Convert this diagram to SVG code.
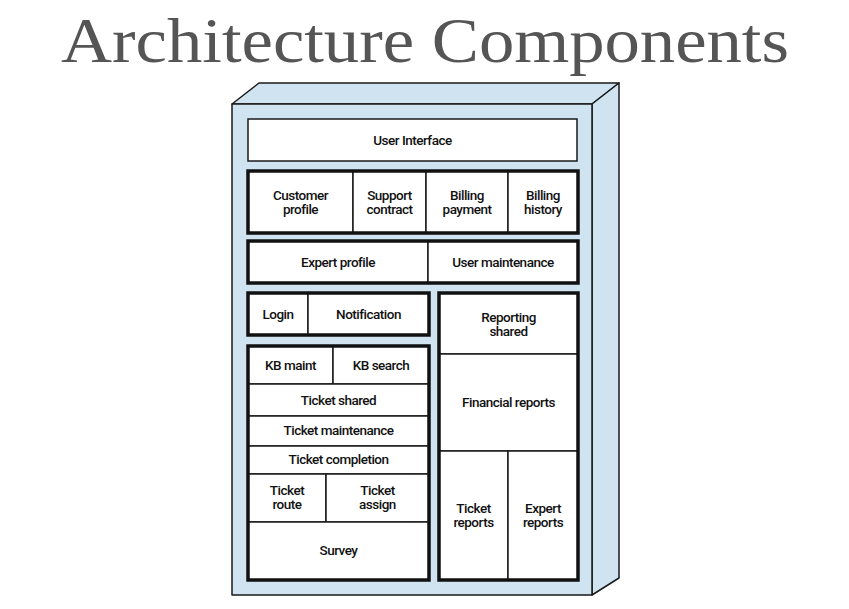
<svg xmlns="http://www.w3.org/2000/svg" width="849" height="609" viewBox="0 0 849 609">
  <style>
    .face { fill: #cfe3f0; stroke: #1a1a1a; stroke-width: 1.5; stroke-linejoin: round; }
    .cell { fill: #ffffff; stroke: #1a1a1a; stroke-width: 1.5; }
    .frame { fill: none; stroke: #111111; stroke-width: 3.5; }
    .lbl { font-family: Roboto, "Liberation Sans", sans-serif; font-size: 13.5px; font-weight: 500; fill: #111111; text-anchor: middle; letter-spacing: -0.5px; }
    .title { font-family: "Liberation Serif", "DejaVu Serif", serif; font-size: 63px; fill: #555555; text-anchor: middle; }
  </style>

  <text class="title" x="425" y="62" textLength="728" lengthAdjust="spacingAndGlyphs">Architecture Components</text>

  <!-- Cabinet solid -->
  <g id="cabinet">
    <polygon class="face" points="232,104 259,83 619,83 592,104"/>
    <polygon class="face" points="592,104 619,83 619,578 592,595"/>
    <rect class="face" x="232" y="104" width="360" height="491"/>
  </g>

  <g id="user-interface">
    <rect class="cell" x="248" y="119" width="329" height="42"/>
    <text class="lbl" x="412.5" y="145">User Interface</text>
  </g>

  <g id="customer-row">
    <rect class="cell" x="248" y="171" width="105" height="62"/>
    <rect class="cell" x="353" y="171" width="73" height="62"/>
    <rect class="cell" x="426" y="171" width="82" height="62"/>
    <rect class="cell" x="508" y="171" width="70" height="62"/>
    <rect class="frame" x="248" y="171" width="330" height="62"/>
    <text class="lbl" x="300.5" y="200">Customer</text>
    <text class="lbl" x="300.5" y="213.5">profile</text>
    <text class="lbl" x="389.5" y="200">Support</text>
    <text class="lbl" x="389.5" y="213.5">contract</text>
    <text class="lbl" x="467" y="200">Billing</text>
    <text class="lbl" x="467" y="213.5">payment</text>
    <text class="lbl" x="543" y="200">Billing</text>
    <text class="lbl" x="543" y="213.5">history</text>
  </g>

  <g id="expert-row">
    <rect class="cell" x="248" y="241" width="180" height="42"/>
    <rect class="cell" x="428" y="241" width="150" height="42"/>
    <rect class="frame" x="248" y="241" width="330" height="42"/>
    <text class="lbl" x="338" y="267">Expert profile</text>
    <text class="lbl" x="503" y="267">User maintenance</text>
  </g>

  <g id="login-row">
    <rect class="cell" x="248" y="293" width="60" height="42"/>
    <rect class="cell" x="308" y="293" width="121" height="42"/>
    <rect class="frame" x="248" y="293" width="181" height="42"/>
    <text class="lbl" x="278" y="319">Login</text>
    <text class="lbl" x="368.5" y="319">Notification</text>
  </g>

  <g id="ticket-stack">
    <rect class="cell" x="248" y="346" width="85" height="38"/>
    <rect class="cell" x="333" y="346" width="96" height="38"/>
    <rect class="cell" x="248" y="384" width="181" height="32"/>
    <rect class="cell" x="248" y="416" width="181" height="30"/>
    <rect class="cell" x="248" y="446" width="181" height="28"/>
    <rect class="cell" x="248" y="474" width="78" height="48"/>
    <rect class="cell" x="326" y="474" width="103" height="48"/>
    <rect class="cell" x="248" y="522" width="181" height="58"/>
    <rect class="frame" x="248" y="346" width="181" height="234"/>
    <text class="lbl" x="290.5" y="370">KB maint</text>
    <text class="lbl" x="381" y="370">KB search</text>
    <text class="lbl" x="338.5" y="405">Ticket shared</text>
    <text class="lbl" x="338.5" y="435">Ticket maintenance</text>
    <text class="lbl" x="338.5" y="464">Ticket completion</text>
    <text class="lbl" x="287" y="495">Ticket</text>
    <text class="lbl" x="287" y="509">route</text>
    <text class="lbl" x="377.5" y="495">Ticket</text>
    <text class="lbl" x="377.5" y="509">assign</text>
    <text class="lbl" x="338.5" y="555">Survey</text>
  </g>

  <g id="reporting-stack">
    <rect class="cell" x="439" y="293" width="139" height="61"/>
    <rect class="cell" x="439" y="354" width="139" height="97"/>
    <rect class="cell" x="439" y="451" width="69" height="129"/>
    <rect class="cell" x="508" y="451" width="70" height="129"/>
    <rect class="frame" x="439" y="293" width="139" height="287"/>
    <text class="lbl" x="508.5" y="322">Reporting</text>
    <text class="lbl" x="508.5" y="335.5">shared</text>
    <text class="lbl" x="508.5" y="407">Financial reports</text>
    <text class="lbl" x="473.5" y="513">Ticket</text>
    <text class="lbl" x="473.5" y="527">reports</text>
    <text class="lbl" x="543" y="513">Expert</text>
    <text class="lbl" x="543" y="527">reports</text>
  </g>
</svg>
